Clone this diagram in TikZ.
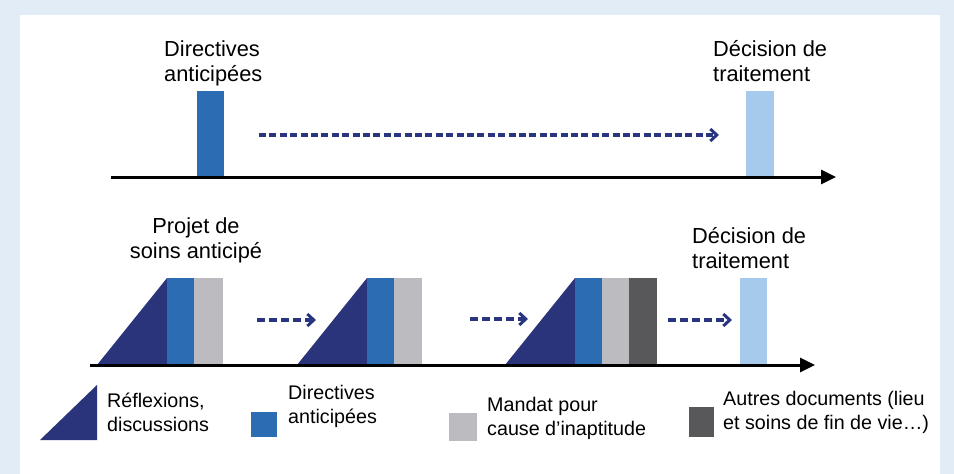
\documentclass[tikz,border=0pt]{standalone}
\usepackage{fontspec}
\setmainfont{Liberation Sans}
\usetikzlibrary{arrows.meta}
\definecolor{bgblue}{HTML}{E1ECF7}
\definecolor{navy}{HTML}{29347A}
\definecolor{midblue}{HTML}{2B6CB3}
\definecolor{lgray}{HTML}{BCBCC0}
\definecolor{dgray}{HTML}{58585B}
\definecolor{lblue}{HTML}{A5CAEB}
\definecolor{dashcol}{HTML}{29357F}
\tikzset{
  axisline/.style={line width=3pt, -{Triangle[length=15pt,width=14pt]}},
  dasharrow/.style={dashcol, line width=3.2pt, dash pattern=on 7pt off 3.4pt, -{Straight Barb[length=6.5pt,width=12pt,line width=3pt]}},
  dasharrowb/.style={dashcol, line width=3.2pt, dash pattern=on 8pt off 4pt, -{Straight Barb[length=6.5pt,width=12pt,line width=3pt]}},
  biglabel/.style={inner sep=0pt, align=left, font=\fontsize{21.8}{25}\selectfont},
  leglabel/.style={inner sep=0pt, align=left, font=\fontsize{19.7}{24}\selectfont},
}
\begin{document}
\begin{tikzpicture}[x=1pt,y=-1pt]
\useasboundingbox (0,0) rectangle (954,474);
\fill[bgblue] (0,0) rectangle (954,474);
\fill[white] (20,15) rectangle (940,474);

% ---- top timeline ----
\fill[midblue] (197,91) rectangle (224,177);
\fill[lblue] (746,91) rectangle (774,177);
\coordinate (ta0) at (111,177);
\coordinate (ta1) at (836,177);
\draw[axisline] (ta0) -- (ta1);
\coordinate (td0) at (259,135);
\coordinate (td1) at (719,135);
\draw[dasharrow] (td0) -- (td1);
% anchor=base gives the baseline of the last line
\node[biglabel, anchor=base west] (lda) at (164,81) {Directives\\anticipées};
\node[biglabel, anchor=base west] (ldt) at (713,81) {Décision de\\traitement};

% ---- bottom timeline ----
% group 1
\fill[navy] (97,365) -- (167,278) -- (167,365) -- cycle;
\fill[midblue] (167,278) rectangle (194,365);
\fill[lgray] (194,278) rectangle (223,365);
% group 2
\fill[navy] (297,365) -- (367,278) -- (367,365) -- cycle;
\fill[midblue] (367,278) rectangle (394,365);
\fill[lgray] (394,278) rectangle (422,365);
% group 3
\fill[navy] (505,365) -- (575,278) -- (575,365) -- cycle;
\fill[midblue] (575,278) rectangle (602,365);
\fill[lgray] (602,278) rectangle (629,365);
\fill[dgray] (629,278) rectangle (657,365);
% decision
\fill[lblue] (740,278) rectangle (767,365);

\coordinate (ba0) at (90,365);
\coordinate (ba1) at (815,365);
\draw[axisline] (ba0) -- (ba1);

\coordinate (d1a) at (257,320);
\coordinate (d1b) at (316,320);
\coordinate (d2a) at (470,319);
\coordinate (d2b) at (528,319);
\coordinate (d3a) at (668,320);
\coordinate (d3b) at (732,320);
\draw[dasharrowb] (d1a) -- (d1b);
\draw[dasharrowb] (d2a) -- (d2b);
\draw[dasharrowb] (d3a) -- (d3b);

\node[biglabel, align=center, anchor=base] (lps) at (196,258) {Projet de\\soins anticipé};
\node[biglabel, anchor=base west] (ldt2) at (692,268) {Décision de\\traitement};

% ---- legend ----
\fill[navy] (40,440) -- (97,385) -- (97,440) -- cycle;
\node[leglabel, anchor=base west] (lg1) at (107,431) {Réflexions,\\discussions};
\fill[midblue] (251,412) rectangle (277,437);
\node[leglabel, anchor=base west] (lg2) at (288,423) {Directives\\anticipées};
\fill[lgray] (449,413) rectangle (477,441);
\node[leglabel, anchor=base west] (lg3) at (487,435) {Mandat pour\\cause d’inaptitude};
\fill[dgray] (689,407) rectangle (714,437);
\node[leglabel, anchor=base west] (lg4) at (723,429) {Autres documents (lieu\\et soins de fin de vie…)};
\end{tikzpicture}
\end{document}
